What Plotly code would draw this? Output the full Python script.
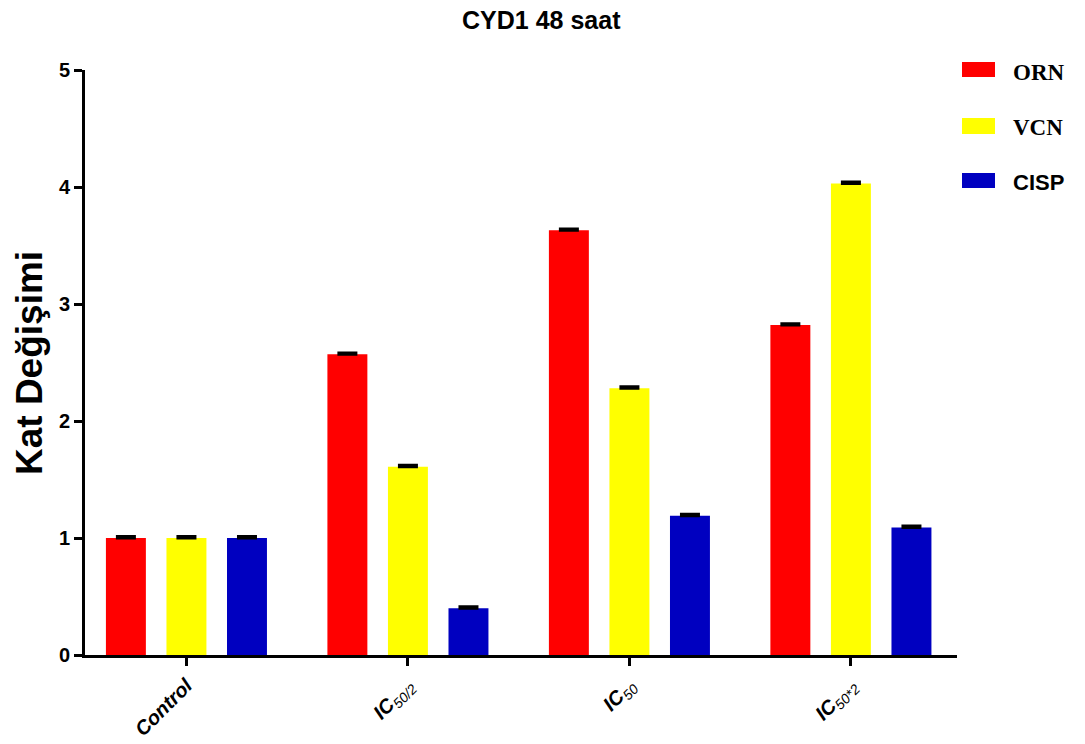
import plotly.graph_objects as go

# Data
categories = ["Control", "IC50/2", "IC50", "IC50*2"]
tick_labels = [
    "<b><i>Control</i></b>",
    "<b><i>IC</i></b><i><sub>50/2</sub></i>",
    "<b><i>IC</i></b><i><sub>50</sub></i>",
    "<b><i>IC</i></b><i><sub>50*2</sub></i>",
]
series_names = ["ORN", "VCN", "CISP"]
orn = [1.00, 2.57, 3.63, 2.82]
vcn = [1.00, 1.61, 2.28, 4.03]
cisp = [1.00, 0.40, 1.19, 1.09]
orn_err = [0.012, 0.012, 0.012, 0.012]
vcn_err = [0.012, 0.012, 0.012, 0.012]
cisp_err = [0.012, 0.012, 0.012, 0.012]

colors = ["#FF0000", "#FFFF00", "#0000C0"]
values = [orn, vcn, cisp]
errors = [orn_err, vcn_err, cisp_err]

W, H = 1085, 744
ML, MR, MT, MB = 85, 128, 70, 89
PW = W - ML - MR
PH = H - MT - MB
BOTTOM = H - MB


def px(x):
    return (x - ML) / PW


def py(y):
    return (BOTTOM - y) / PH


fig = go.Figure()
for name, vals, errs, col in zip(series_names, values, errors, colors):
    fig.add_trace(go.Bar(
        x=categories, y=vals, name=name,
        marker=dict(color=col, line=dict(width=0)),
        error_y=dict(type="data", array=errs, arrayminus=[0] * len(errs),
                     color="black", thickness=3, width=10),
        showlegend=False,
    ))

# Legend drawn as swatches + labels
legend_rows = [
    ("ORN", 62, 77, 72, "Liberation Serif", 23),
    ("VCN", 118, 134, 127, "Liberation Serif", 23),
    ("CISP", 173, 188, 182, "Liberation Sans", 22),
]
shapes = []
annotations = []
for (label, y0, y1, yc, fam, fs), col in zip(legend_rows, colors):
    shapes.append(dict(type="rect", xref="paper", yref="paper",
                       x0=px(962), x1=px(995), y0=py(y1), y1=py(y0),
                       fillcolor=col, line=dict(width=0)))
    annotations.append(dict(text=f"<b>{label}</b>", xref="paper", yref="paper",
                            x=px(1011), y=py(yc), xanchor="left", yanchor="middle",
                            showarrow=False,
                            font=dict(family=fam, size=fs, color="black")))

# Y axis title
annotations.append(dict(text="<b>Kat Değişimi</b>", xref="paper", yref="paper",
                        x=px(29), y=py(363), xanchor="center", yanchor="middle",
                        textangle=-90, showarrow=False,
                        font=dict(family="Liberation Sans", size=37, color="black")))

fig.update_layout(
    width=W, height=H,
    margin=dict(l=ML, r=MR, t=MT, b=MB),
    paper_bgcolor="white", plot_bgcolor="white",
    barmode="group", bargap=0.18, bargroupgap=0.34,
    title=dict(text="<b>CYD1 48 saat</b>", x=px(520), xanchor="center",
               y=1 - 20 / H, yanchor="middle",
               font=dict(family="Liberation Sans", size=25, color="black")),
    shapes=shapes, annotations=annotations,
    font=dict(family="Liberation Sans", color="black"),
)
fig.update_xaxes(
    range=[-0.458, 3.479], tickvals=categories, ticktext=tick_labels,
    tickangle=-45, tickfont=dict(family="Liberation Sans", size=20, color="black"),
    showline=True, linecolor="black", linewidth=3,
    ticks="outside", ticklen=8, tickwidth=2.5, tickcolor="black",
    showgrid=False, zeroline=False, fixedrange=True, automargin=False,
)
fig.update_yaxes(
    range=[0, 5], dtick=1, tick0=0,
    tickfont=dict(family="Liberation Sans", size=20, color="black"),
    tickprefix="<b>", ticksuffix="</b>",
    showline=True, linecolor="black", linewidth=3,
    ticks="outside", ticklen=8, tickwidth=2.5, tickcolor="black",
    showgrid=False, zeroline=False, fixedrange=True, automargin=False,
)

fig.write_html("out.html")
